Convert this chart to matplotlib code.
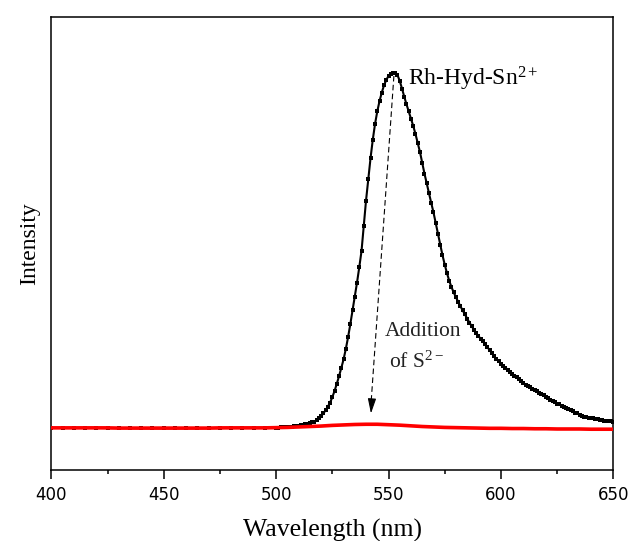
import numpy as np
import matplotlib
matplotlib.use("Agg")
import matplotlib.pyplot as plt

plt.rcParams['mathtext.fontset'] = 'custom'
plt.rcParams['mathtext.rm'] = 'Liberation Serif'
plt.rcParams['mathtext.it'] = 'Liberation Serif:italic'

# ---- data (arbitrary intensity units) ----
wl_base = [400, 405, 410, 415, 420, 425, 430, 435, 440, 445, 450, 455, 460, 465,
           470, 475, 480, 485, 490, 495]
int_base = [87, 87, 87, 87, 87, 86.5, 86.5, 86.5, 86, 86, 86, 86, 86, 86,
            86.5, 86.5, 87, 87, 87, 87]

wl_peak = list(range(500, 651))
int_peak = [87.5, 87.7, 88, 88.3, 88.6, 89, 89.5, 90, 90.6, 91.3,
            92, 93, 94, 95, 96, 97.5, 99, 101, 104, 108,
            113, 119, 126, 134, 143, 155, 169, 185, 202, 220,
            239, 262, 288, 317, 348, 378, 410, 444, 480, 535,
            592, 640, 686, 727, 762, 790, 813, 832, 848, 860,
            869, 874, 876, 876, 871, 858, 841, 823, 806, 790,
            774, 758, 740, 720, 700, 676, 652, 630, 608, 587,
            566, 542, 518, 494, 471, 450, 431, 414, 400, 388,
            377, 367, 357, 348, 339, 330, 321, 313, 305, 298,
            291, 285, 279, 273, 266, 260, 253, 246, 240, 235,
            230, 225, 221, 216, 212, 207, 203, 199, 195, 191,
            187, 183, 180, 177, 174, 171, 168, 165, 162, 159,
            156, 153, 150, 147, 144, 141, 139, 136, 134, 131,
            129, 126, 124, 121, 119, 116, 114, 112, 111, 110,
            109, 108, 107, 106, 105, 104, 103, 102.5, 102, 101.5,
            101]

wl_red = list(range(400, 651, 5))
int_red = [87, 87, 87, 87, 87, 87, 86.5, 86.5, 86.5, 86.5, 86.5, 86.5, 86.5, 86.5,
           86.5, 87, 87, 87, 87, 87, 87.5, 88, 89, 90, 91, 92.5, 93.5, 94.5,
           95, 95, 94, 93, 91.5, 90, 89, 88, 87.5, 87, 86.5, 86, 86, 85.5,
           85.5, 85, 85, 84.5, 84.5, 84.5, 84, 84, 84]

xticks = [400, 450, 500, 550, 600, 650]
label_top = r'Rh-Hyd-Sn$^{\mathrm{2+}}$'
label_add1 = 'Addition'
label_add2 = r'of S$^{\mathrm{2-}}$'

# ---- figure ----
fig = plt.figure(figsize=(6.3, 5.41), dpi=100)
ax = fig.add_axes([51.3 / 630, 1 - 470.3 / 541, (613.3 - 51.3) / 630, (470.3 - 17.3) / 541])

wl_black = wl_base + wl_peak
int_black = int_base + int_peak
ax.plot(wl_black, int_black, color='black', lw=1.5, marker='s', markersize=2.6,
        markeredgewidth=0, zorder=2)
ax.plot(wl_red, int_red, color='#ff0000', lw=2.6, zorder=3)

ax.set_xlim(400, 650)
ax.set_ylim(-7.3, 999.3)

serif = 'Liberation Serif'
ax.set_xticks(xticks)
ax.set_xticks(np.arange(425, 650, 50), minor=True)
ax.set_yticks([])
ax.tick_params(axis='x', which='major', direction='out', length=6.5, width=1.1,
               labelsize=12, pad=4.5, top=False)
ax.tick_params(axis='x', which='minor', direction='out', length=3.2, width=1.1, top=False)
for lab in ax.get_xticklabels():
    lab.set_fontfamily('DejaVu Sans')
for s in ax.spines.values():
    s.set_linewidth(1.1)

ax.set_xlabel('Wavelength (nm)', fontfamily=serif, fontsize=18.5, labelpad=11)
ax.set_ylabel('Intensity', fontfamily=serif, fontsize=17, labelpad=8)

# annotations
ax.text(558.7, 847, label_top, fontfamily=serif, fontsize=17, va='baseline', ha='left')
ax.text(548.4, 292, label_add1, fontfamily=serif, fontsize=15.5, va='baseline', ha='left',
        color='#222222')
ax.text(550.4, 221, label_add2, fontfamily=serif, fontsize=15.5, va='baseline', ha='left',
        color='#222222')

arrow_start = (552.4, 869)
arrow_end = (542.2, 119)
ax.plot([arrow_start[0], arrow_end[0]], [arrow_start[1], arrow_end[1] + 20],
        color='black', lw=0.8, dashes=(5, 3), zorder=4)
t = 0.96
pre = (arrow_start[0] + (arrow_end[0] - arrow_start[0]) * t,
       arrow_start[1] + (arrow_end[1] - arrow_start[1]) * t)
ax.annotate('', xy=arrow_end, xytext=pre,
            arrowprops=dict(arrowstyle='-|>,head_length=0.9,head_width=0.25',
                            color='black', lw=0.8, shrinkA=0, shrinkB=0), zorder=4)

fig.savefig('out.png', dpi=100)
